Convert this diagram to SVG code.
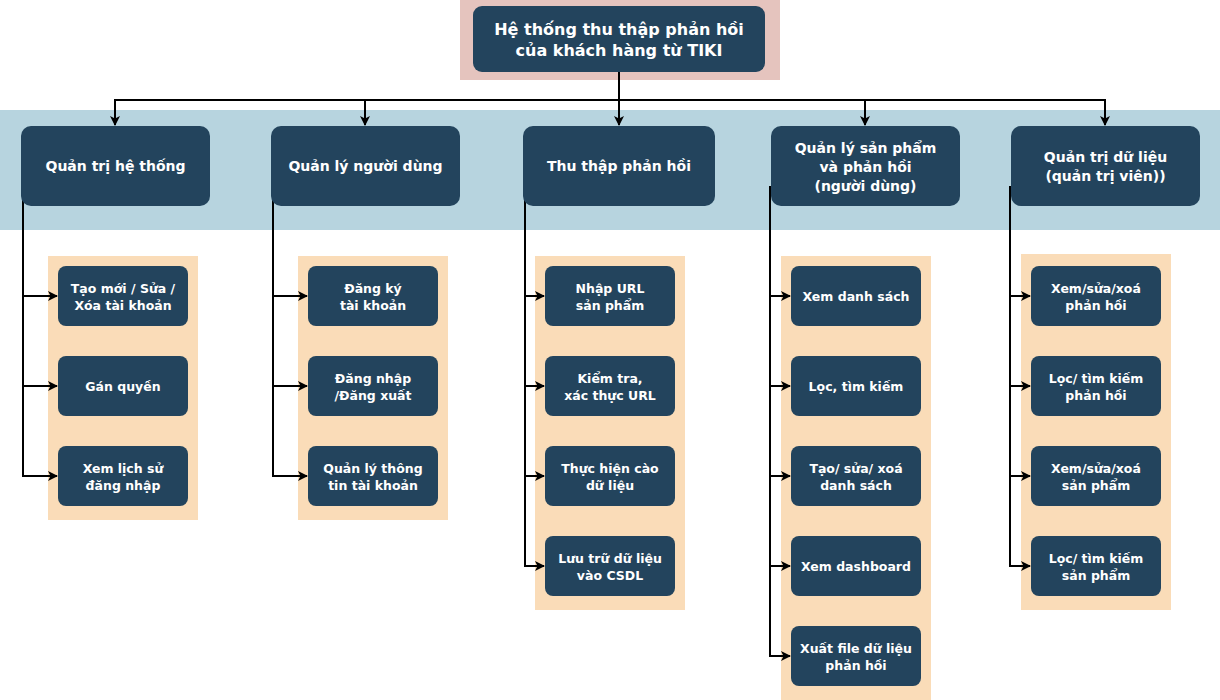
<svg xmlns="http://www.w3.org/2000/svg" width="1220" height="700" viewBox="0 0 1220 700">
<style>
.node{fill:#23445D;}
.t{fill:#FFFFFF;font-family:"DejaVu Sans","Liberation Sans",sans-serif;font-weight:bold;text-anchor:middle;dominant-baseline:central;}
.t1{font-size:16px;}
.t2{font-size:14px;}
.t3{font-size:12.5px;}
.c{fill:none;stroke:#000000;stroke-width:2;marker-end:url(#arr);}
</style>
<defs>
<marker id="arr" markerWidth="10" markerHeight="10" refX="9" refY="5" orient="auto" markerUnits="userSpaceOnUse">
<path d="M0,0 L10,5 L0,10 L2.5,5 Z" fill="#000000"/>
</marker>
</defs>
<g id="backgrounds">
<rect x="460" y="0" width="320" height="80" fill="#E5C4BE"/>
<rect x="0" y="110" width="1220" height="120" fill="#B7D4DF"/>
<rect x="48" y="256" width="150" height="264" fill="#FADCB8"/>
<rect x="298" y="256" width="150" height="264" fill="#FADCB8"/>
<rect x="535" y="256" width="150" height="354" fill="#FADCB8"/>
<rect x="781" y="256" width="150" height="444" fill="#FADCB8"/>
<rect x="1021" y="254" width="150" height="356" fill="#FADCB8"/>
</g>
<g id="connectors">
<path class="c" d="M619,72 L619,125"/>
<path class="c" d="M619,100 L115,100 L115,125"/>
<path class="c" d="M619,100 L365,100 L365,125"/>
<path class="c" d="M619,100 L865,100 L865,125"/>
<path class="c" d="M619,100 L1105,100 L1105,125"/>
<path class="c" d="M23,185 L23,296 L57,296"/>
<path class="c" d="M23,185 L23,386 L57,386"/>
<path class="c" d="M23,185 L23,476 L57,476"/>
<path class="c" d="M273,195 L273,296 L307,296"/>
<path class="c" d="M273,195 L273,386 L307,386"/>
<path class="c" d="M273,195 L273,476 L307,476"/>
<path class="c" d="M525,193 L525,296 L544,296"/>
<path class="c" d="M525,193 L525,386 L544,386"/>
<path class="c" d="M525,193 L525,476 L544,476"/>
<path class="c" d="M525,193 L525,566 L544,566"/>
<path class="c" d="M770,186 L770,296 L790,296"/>
<path class="c" d="M770,186 L770,386 L790,386"/>
<path class="c" d="M770,186 L770,476 L790,476"/>
<path class="c" d="M770,186 L770,566 L790,566"/>
<path class="c" d="M770,186 L770,656 L790,656"/>
<path class="c" d="M1010,186 L1010,296 L1030,296"/>
<path class="c" d="M1010,186 L1010,386 L1030,386"/>
<path class="c" d="M1010,186 L1010,476 L1030,476"/>
<path class="c" d="M1010,186 L1010,566 L1030,566"/>
</g>
<g id="root">
<rect class="node" x="473" y="6" width="292" height="66" rx="9"/>
<text class="t t1" x="619" y="29">Hệ thống thu thập phản hồi</text>
<text class="t t1" x="619" y="50">của khách hàng từ TIKI</text>
</g>
<g id="n1">
<rect class="node" x="21" y="126" width="189" height="80" rx="10"/>
<text class="t t2" x="115.5" y="166">Quản trị hệ thống</text>
</g>
<g id="n2">
<rect class="node" x="271" y="126" width="189" height="80" rx="10"/>
<text class="t t2" x="365.5" y="166">Quản lý người dùng</text>
</g>
<g id="n3">
<rect class="node" x="523" y="126" width="192" height="80" rx="10"/>
<text class="t t2" x="619" y="166">Thu thập phản hồi</text>
</g>
<g id="n4">
<rect class="node" x="771" y="126" width="189" height="80" rx="10"/>
<text class="t t2" x="865.5" y="148">Quản lý sản phẩm</text>
<text class="t t2" x="865.5" y="167">và phản hồi</text>
<text class="t t2" x="865.5" y="186">(người dùng)</text>
</g>
<g id="n5">
<rect class="node" x="1011" y="126" width="189" height="80" rx="10"/>
<text class="t t2" x="1105.5" y="157">Quản trị dữ liệu</text>
<text class="t t2" x="1105.5" y="176">(quản trị viên))</text>
</g>
<g id="n1a"><rect class="node" x="58" y="266" width="130" height="60" rx="8"/>
<text class="t t3" x="123" y="288">Tạo mới / Sửa /</text><text class="t t3" x="123" y="305">Xóa tài khoản</text></g>
<g id="n1b"><rect class="node" x="58" y="356" width="130" height="60" rx="8"/>
<text class="t t3" x="123" y="386">Gán quyền</text></g>
<g id="n1c"><rect class="node" x="58" y="446" width="130" height="60" rx="8"/>
<text class="t t3" x="123" y="468">Xem lịch sử</text><text class="t t3" x="123" y="485">đăng nhập</text></g>
<g id="n2a"><rect class="node" x="308" y="266" width="130" height="60" rx="8"/>
<text class="t t3" x="373" y="288">Đăng ký</text><text class="t t3" x="373" y="305">tài khoản</text></g>
<g id="n2b"><rect class="node" x="308" y="356" width="130" height="60" rx="8"/>
<text class="t t3" x="373" y="378">Đăng nhập</text><text class="t t3" x="373" y="395">/Đăng xuất</text></g>
<g id="n2c"><rect class="node" x="308" y="446" width="130" height="60" rx="8"/>
<text class="t t3" x="373" y="468">Quản lý thông</text><text class="t t3" x="373" y="485">tin tài khoản</text></g>
<g id="n3a"><rect class="node" x="545" y="266" width="130" height="60" rx="8"/>
<text class="t t3" x="610" y="288">Nhập URL</text><text class="t t3" x="610" y="305">sản phẩm</text></g>
<g id="n3b"><rect class="node" x="545" y="356" width="130" height="60" rx="8"/>
<text class="t t3" x="610" y="378">Kiểm tra,</text><text class="t t3" x="610" y="395">xác thực URL</text></g>
<g id="n3c"><rect class="node" x="545" y="446" width="130" height="60" rx="8"/>
<text class="t t3" x="610" y="468">Thực hiện cào</text><text class="t t3" x="610" y="485">dữ liệu</text></g>
<g id="n3d"><rect class="node" x="545" y="536" width="130" height="60" rx="8"/>
<text class="t t3" x="610" y="558">Lưu trữ dữ liệu</text><text class="t t3" x="610" y="575">vào CSDL</text></g>
<g id="n4a"><rect class="node" x="791" y="266" width="130" height="60" rx="8"/>
<text class="t t3" x="856" y="296">Xem danh sách</text></g>
<g id="n4b"><rect class="node" x="791" y="356" width="130" height="60" rx="8"/>
<text class="t t3" x="856" y="386">Lọc, tìm kiếm</text></g>
<g id="n4c"><rect class="node" x="791" y="446" width="130" height="60" rx="8"/>
<text class="t t3" x="856" y="468">Tạo/ sửa/ xoá</text><text class="t t3" x="856" y="485">danh sách</text></g>
<g id="n4d"><rect class="node" x="791" y="536" width="130" height="60" rx="8"/>
<text class="t t3" x="856" y="566">Xem dashboard</text></g>
<g id="n4e"><rect class="node" x="791" y="626" width="130" height="60" rx="8"/>
<text class="t t3" x="856" y="648">Xuất file dữ liệu</text><text class="t t3" x="856" y="665">phản hồi</text></g>
<g id="n5a"><rect class="node" x="1031" y="266" width="130" height="60" rx="8"/>
<text class="t t3" x="1096" y="288">Xem/sửa/xoá</text><text class="t t3" x="1096" y="305">phản hồi</text></g>
<g id="n5b"><rect class="node" x="1031" y="356" width="130" height="60" rx="8"/>
<text class="t t3" x="1096" y="378">Lọc/ tìm kiếm</text><text class="t t3" x="1096" y="395">phản hồi</text></g>
<g id="n5c"><rect class="node" x="1031" y="446" width="130" height="60" rx="8"/>
<text class="t t3" x="1096" y="468">Xem/sửa/xoá</text><text class="t t3" x="1096" y="485">sản phẩm</text></g>
<g id="n5d"><rect class="node" x="1031" y="536" width="130" height="60" rx="8"/>
<text class="t t3" x="1096" y="558">Lọc/ tìm kiếm</text><text class="t t3" x="1096" y="575">sản phẩm</text></g>
</svg>
